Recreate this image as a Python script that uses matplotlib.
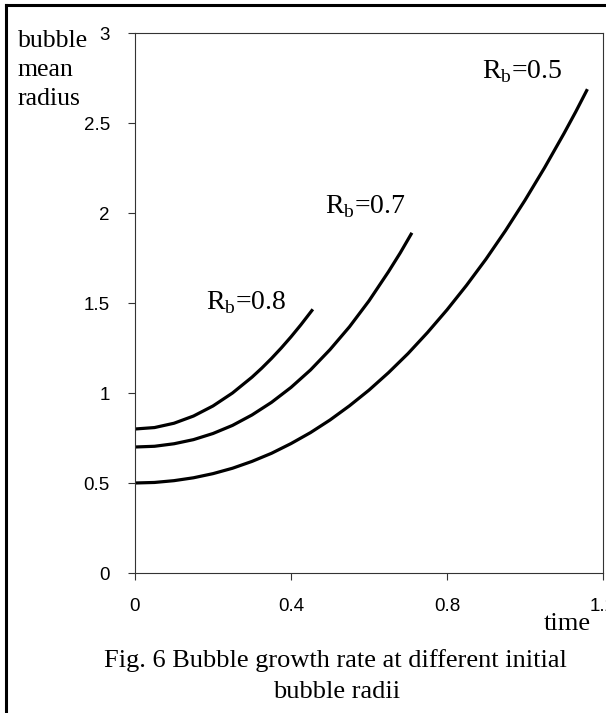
import numpy as np
import matplotlib
matplotlib.use('Agg')
from matplotlib import pyplot as plt
from matplotlib.lines import Line2D


# Data


t_08 = [0, 0.05, 0.1, 0.15, 0.2, 0.25, 0.3, 0.325, 0.35, 0.375, 0.4, 0.425, 0.456]
r_08 = [0.8, 0.808, 0.832, 0.872, 0.928, 1.0, 1.088, 1.138, 1.192, 1.25, 1.312,
        1.378, 1.465]

t_07 = [0, 0.05, 0.1, 0.15, 0.2, 0.25, 0.3, 0.35, 0.4, 0.45, 0.5, 0.55, 0.6, 0.65,
        0.68, 0.71]
r_07 = [0.7, 0.704, 0.718, 0.741, 0.775, 0.82, 0.878, 0.948, 1.031, 1.128, 1.241,
        1.368, 1.512, 1.674, 1.778, 1.89]

t_05 = [0, 0.05, 0.1, 0.15, 0.2, 0.25, 0.3, 0.35, 0.4, 0.45, 0.5, 0.55, 0.6, 0.65,
        0.7, 0.75, 0.8, 0.85, 0.9, 0.95, 1.0, 1.05, 1.1, 1.13, 1.16]
r_05 = [0.5, 0.503, 0.513, 0.529, 0.552, 0.582, 0.62, 0.665, 0.719, 0.78, 0.85,
        0.929, 1.016, 1.113, 1.219, 1.336, 1.462, 1.598, 1.744, 1.902, 2.071,
        2.251, 2.442, 2.562, 2.688]

labels = ['0.8', '0.7', '0.5']
label_pos = [(0.182, 1.467), (0.486, 2.0), (0.891, 2.75)]

xticks = [0, 0.4, 0.8, 1.2]
xticklabels = ['0', '0.4', '0.8', '1.2']
yticks = [0, 0.5, 1, 1.5, 2, 2.5, 3]
yticklabels = ['0', '0.5', '1', '1.5', '2', '2.5', '3']


# Plot


W, H = 606, 713
serif = 'Liberation Serif'
sans = 'Liberation Sans'

fig = plt.figure(figsize=(W / 100, H / 100), dpi=100)
ax = fig.add_axes([135 / W, 1 - 573 / H, 468 / W, 540 / H])

for t, r in [(t_08, r_08), (t_07, r_07), (t_05, r_05)]:
    ax.plot(t, r, color='black', lw=2.3, solid_capstyle='butt',
            solid_joinstyle='round')

for lab, (x, y) in zip(labels, label_pos):
    ax.text(x, y, r'R$_\mathregular{b}$=' + lab, family=serif, fontsize=20,
            ha='left', va='baseline')

ax.set_xlim(0, 1.2)
ax.set_ylim(0, 3)
ax.set_xticks(xticks)
ax.set_xticklabels(xticklabels, family=sans, fontsize=13.5)
ax.set_yticks(yticks)
ax.set_yticklabels(yticklabels, family=sans, fontsize=13.5)
ax.tick_params(direction='out', length=5, width=0.8, pad=13, color='#333333')
for s in ax.spines.values():
    s.set_linewidth(0.8)
    s.set_color('#333333')

# y label written as three lines in the corner
for txt, yb in zip(['bubble', 'mean', 'radius'], [47, 76, 105]):
    fig.text(18 / W, 1 - yb / H, txt, family=serif, fontsize=18.5,
             ha='left', va='baseline')

fig.text(591 / W, 1 - 630 / H, 'time', family=serif, fontsize=19,
         ha='right', va='baseline')
fig.text(335 / W, 1 - 667 / H, 'Fig. 6 Bubble growth rate at different initial',
         family=serif, fontsize=19, ha='center', va='baseline')
fig.text(337 / W, 1 - 698 / H, 'bubble radii', family=serif, fontsize=19,
         ha='center', va='baseline')

# thick frame on the left and top edges
fig.add_artist(Line2D([6 / W, 6 / W], [0, 1 - 5 / H], color='black', lw=2.2,
                      transform=fig.transFigure))
fig.add_artist(Line2D([6 / W, 1], [1 - 5 / H, 1 - 5 / H], color='black', lw=2.2,
                      transform=fig.transFigure))

fig.savefig('out.png', dpi=100)
